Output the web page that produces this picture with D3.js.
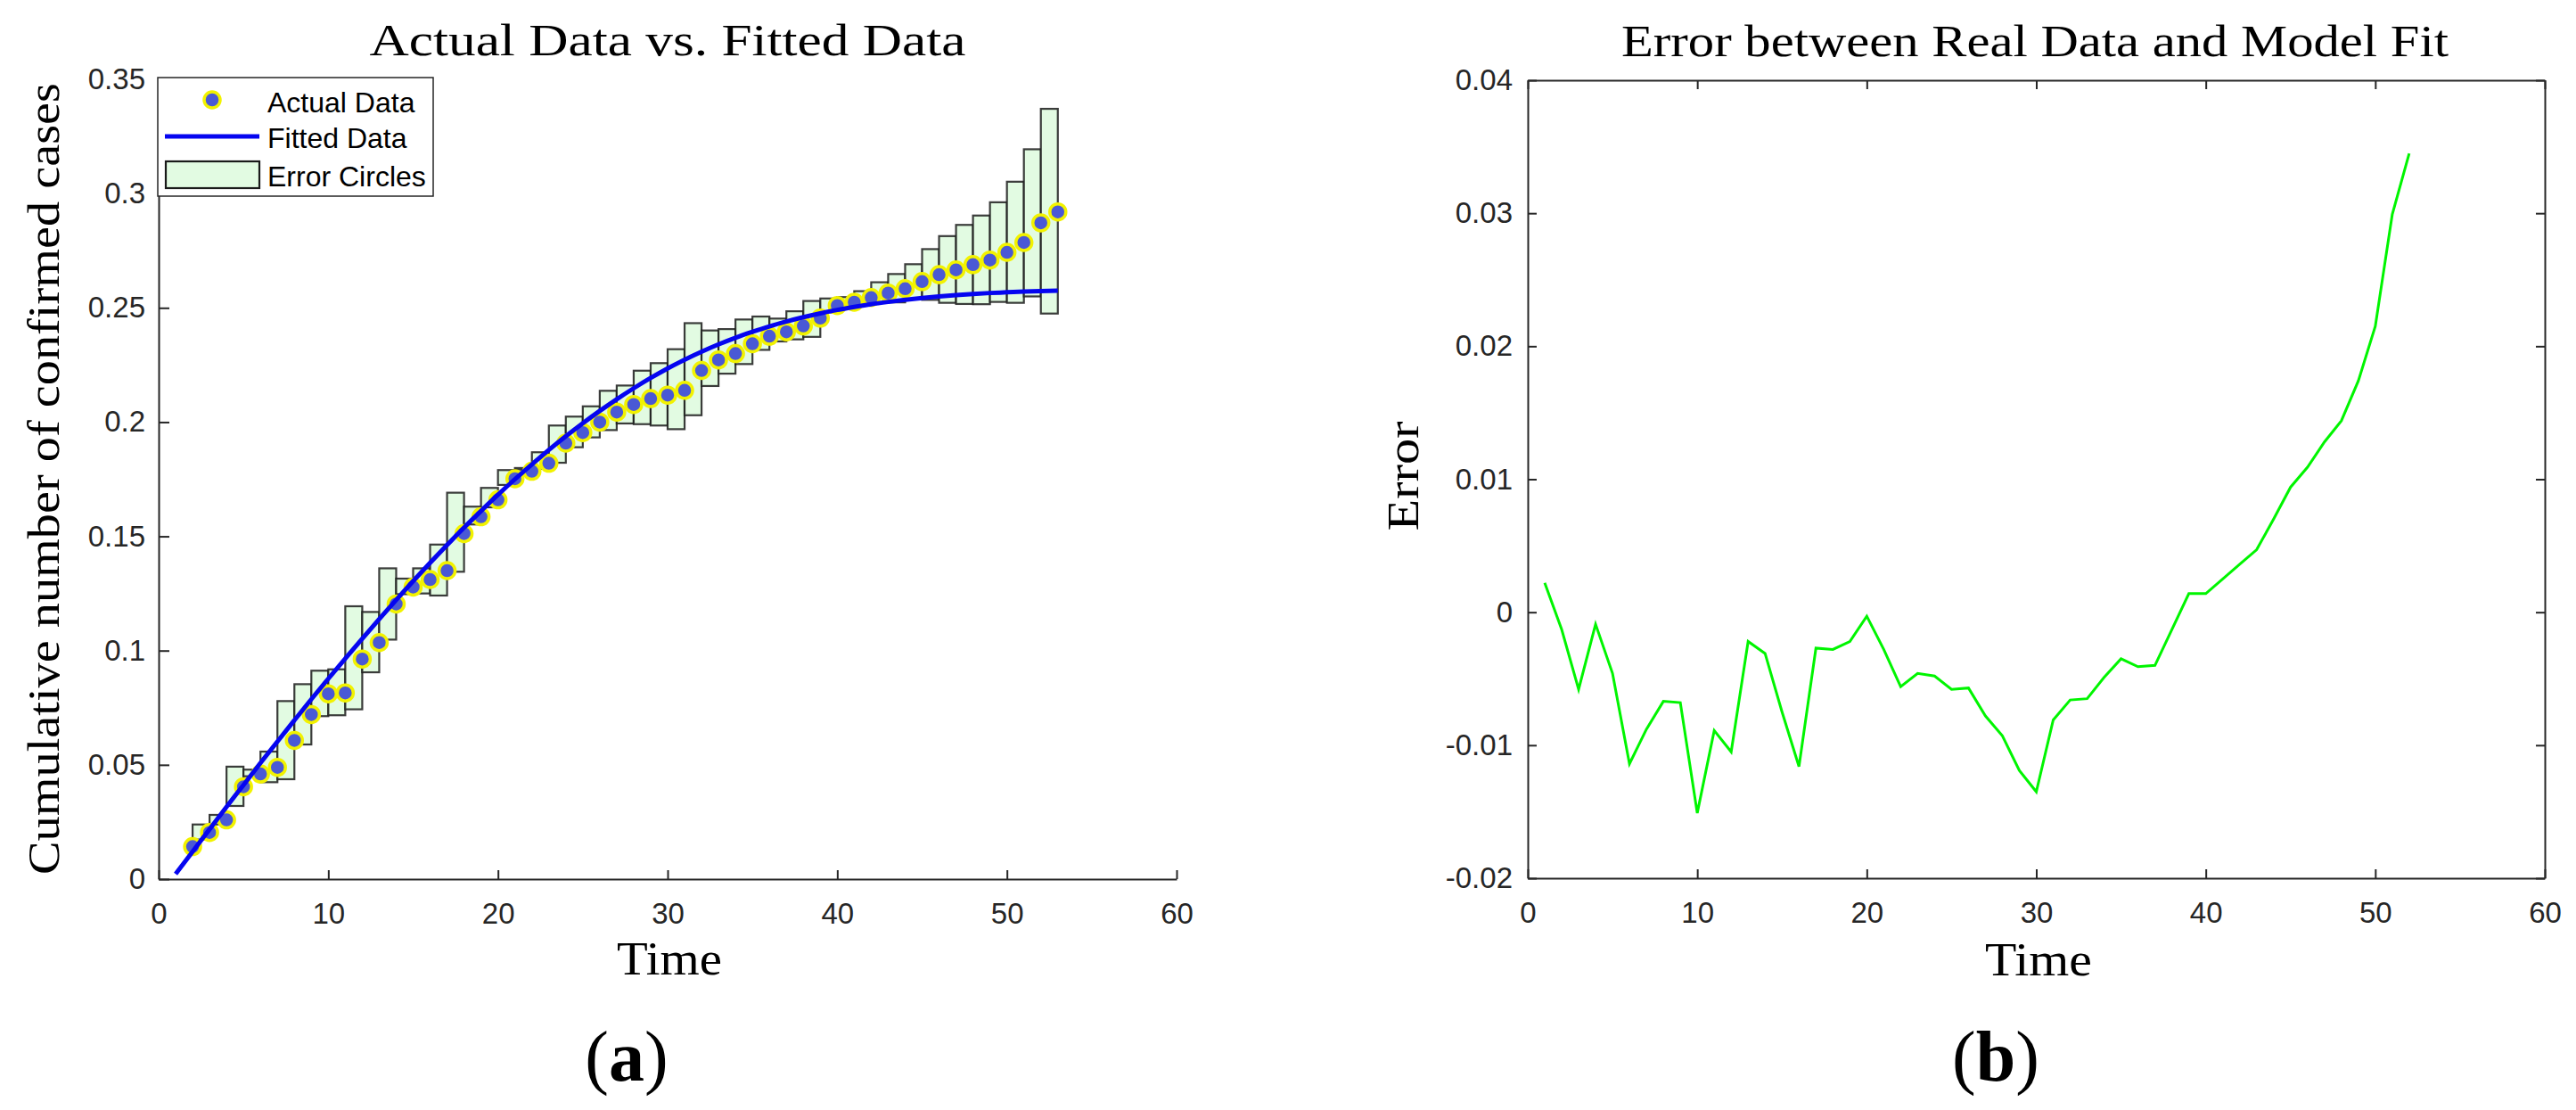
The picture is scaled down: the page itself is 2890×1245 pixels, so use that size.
<!DOCTYPE html>
<html lang="en">
<head>
<meta charset="UTF-8">
<title>Actual Data vs. Fitted Data</title>
<script src="https://d3js.org/d3.v7.min.js"></script>
<style>
    body { margin: 0; background: #fff; }
    .tick text {
        font-family: "Liberation Sans", Arial, sans-serif;
        font-size: 33px;
        fill: #262626;
    }
    .tick line, .domain {
        stroke: #262626;
        stroke-width: 2;
    }
    .latex {
        font-family: "Liberation Serif", serif;
        fill: #000;
    }
    .legend text {
        font-family: "Liberation Sans", Arial, sans-serif;
        font-size: 32px;
        fill: #000;
    }
</style>
</head>
<body>
<script>
    const width = 2890;
    const height = 1245;

    // panel (a): observed points, start at t = 2
    const actualStart = 2;
    const actualValues = [0.0142, 0.0204, 0.0259, 0.0404, 0.0460, 0.0489, 0.0607, 0.0720, 0.0811, 0.0815,
        0.0963, 0.1035, 0.1204, 0.1278, 0.1311, 0.1350, 0.1512, 0.1586, 0.1660, 0.1752,
        0.1785, 0.1820, 0.1908, 0.1954, 0.2000, 0.2044, 0.2077, 0.2103, 0.2118, 0.2139,
        0.2226, 0.2272, 0.2300, 0.2343, 0.2376, 0.2395, 0.2421, 0.2455, 0.2510, 0.2525,
        0.2545, 0.2565, 0.2584, 0.2615, 0.2645, 0.2666, 0.2689, 0.2709, 0.2743, 0.2786,
        0.2872, 0.2920];

    // fitted curve, t = 1..53
    const fittedStart = 1;
    const fittedValues = [0.0022, 0.0120, 0.0218, 0.0316, 0.0412, 0.0508, 0.0602, 0.0695, 0.0787, 0.0877,
        0.0965, 0.1052, 0.1138, 0.1222, 0.1304, 0.1384, 0.1462, 0.1538, 0.1611, 0.1682,
        0.1750, 0.1815, 0.1878, 0.1938, 0.1995, 0.2049, 0.2100, 0.2148, 0.2193, 0.2235,
        0.2273, 0.2308, 0.2340, 0.2369, 0.2395, 0.2419, 0.2440, 0.2459, 0.2476, 0.2491,
        0.2504, 0.2516, 0.2526, 0.2535, 0.2543, 0.2550, 0.2556, 0.2561, 0.2565, 0.2568,
        0.2571, 0.2573, 0.2575];

    // error boxes, each spans [t, t+1], t = 2..52
    const boxStart = 2;
    const boxHigh = [0.0239, 0.0281, 0.0492, 0.0479, 0.0558, 0.0779, 0.0853, 0.0912, 0.0918, 0.1194,
        0.1169, 0.1360, 0.1315, 0.1360, 0.1464, 0.1691, 0.1630, 0.1712, 0.1790, 0.1799,
        0.1868, 0.1985, 0.2024, 0.2069, 0.2137, 0.2160, 0.2225, 0.2258, 0.2319, 0.2433,
        0.2401, 0.2407, 0.2449, 0.2462, 0.2453, 0.2485, 0.2530, 0.2541, 0.2547, 0.2573,
        0.2612, 0.2648, 0.2691, 0.2757, 0.2814, 0.2863, 0.2904, 0.2962, 0.3052, 0.3194,
        0.3371];
    const boxLow = [0.0173, 0.0239, 0.0320, 0.0450, 0.0424, 0.0437, 0.0589, 0.0713, 0.0717, 0.0743,
        0.0905, 0.1048, 0.1247, 0.1250, 0.1241, 0.1345, 0.1552, 0.1627, 0.1725, 0.1792,
        0.1796, 0.1822, 0.1890, 0.1933, 0.1965, 0.1994, 0.1991, 0.1985, 0.1969, 0.2030,
        0.2158, 0.2212, 0.2254, 0.2316, 0.2353, 0.2362, 0.2373, 0.2480, 0.2500, 0.2510,
        0.2522, 0.2524, 0.2540, 0.2535, 0.2522, 0.2517, 0.2516, 0.2526, 0.2522, 0.2550,
        0.2475];

    // panel (b): error, t = 1..52
    const errorStart = 1;
    const errorValues = [0.0022, -0.0013, -0.0058, -0.0009, -0.0046, -0.0114, -0.0088, -0.0067, -0.0068, -0.0151,
        -0.0089, -0.0105, -0.0022, -0.0031, -0.0075, -0.0116, -0.0027, -0.0028, -0.0022, -0.0003,
        -0.0028, -0.0056, -0.0046, -0.0048, -0.0058, -0.0057, -0.0078, -0.0093, -0.0119, -0.0135,
        -0.0081, -0.0066, -0.0065, -0.0049, -0.0035, -0.0041, -0.0040, -0.0013, 0.0014, 0.0014,
        0.0025, 0.0036, 0.0047, 0.0070, 0.0094, 0.0109, 0.0128, 0.0144, 0.0174, 0.0215,
        0.0299, 0.0345];

    const timeTicks = [0, 10, 20, 30, 40, 50, 60];
    const casesTicks = [0, 0.05, 0.1, 0.15, 0.2, 0.25, 0.3, 0.35];
    const errorTicks = [-0.02, -0.01, 0, 0.01, 0.02, 0.03, 0.04];
    const legendLabels = ["Actual Data", "Fitted Data", "Error Circles"];

    const dotBlue = "#4a59d5";
    const dotEdge = "#f2f200";
    const fitBlue = "#0505f0";
    const boxFill = "#e2fbe2";
    const errGreen = "#00f500";

    const xLeft = d3.scaleLinear().domain([0, 60]).range([178, 1320]);
    const yLeft = d3.scaleLinear().domain([0, 0.35]).range([986, 89]);
    const xRight = d3.scaleLinear().domain([0, 60]).range([1714, 2855]);
    const yRight = d3.scaleLinear().domain([-0.02, 0.04]).range([985, 90]);

    const svg = d3.select("body").append("svg")
        .attr("width", width).attr("height", height);
    svg.append("rect").attr("width", width).attr("height", height).attr("fill", "#fff");

    const fmt = d => String(d);

    drawLeft(svg.append("g").attr("class", "left"));
    drawRight(svg.append("g").attr("class", "right"));

    function drawLeft(g) {
        g.append("g")
            .attr("transform", `translate(0,${yLeft(0)})`)
            .call(d3.axisBottom(xLeft).tickValues(timeTicks).tickFormat(fmt)
                .tickSizeInner(-10).tickSizeOuter(0).tickPadding(27));
        g.append("g")
            .attr("transform", `translate(${xLeft(0)},0)`)
            .call(d3.axisLeft(yLeft).tickValues(casesTicks).tickFormat(fmt)
                .tickSizeInner(-12).tickSizeOuter(0).tickPadding(15));

        const boxes = boxHigh.map((d, i) => ({
            t: boxStart + i, hi: d, lo: boxLow[i]
        }));
        g.append("g").selectAll("rect")
            .data(boxes)
            .enter()
            .append("rect")
            .attr("x", d => xLeft(d.t))
            .attr("width", d => xLeft(d.t + 1) - xLeft(d.t))
            .attr("y", d => yLeft(d.hi))
            .attr("height", d => Math.max(1.5, yLeft(d.lo) - yLeft(d.hi)))
            .attr("fill", boxFill)
            .attr("stroke", "#1a1a1a")
            .attr("stroke-opacity", 0.85)
            .attr("stroke-width", 2.2);

        g.append("g").selectAll("circle")
            .data(actualValues)
            .enter()
            .append("circle")
            .attr("cx", (d, i) => xLeft(actualStart + i))
            .attr("cy", d => yLeft(d))
            .attr("r", 9)
            .attr("fill", dotBlue)
            .attr("stroke", dotEdge)
            .attr("stroke-width", 3.5);

        const fitLine = d3.line()
            .x((d, i) => xLeft(fittedStart + i))
            .y(d => yLeft(d))
            .curve(d3.curveMonotoneX);
        g.append("path")
            .datum(fittedValues)
            .attr("d", fitLine)
            .attr("fill", "none")
            .attr("stroke", fitBlue)
            .attr("stroke-width", 5);

        // legend
        const leg = g.append("g").attr("class", "legend");
        leg.append("rect")
            .attr("x", 177).attr("y", 87).attr("width", 309).attr("height", 133)
            .attr("fill", "#fff").attr("stroke", "#262626").attr("stroke-width", 1.5);
        leg.append("circle")
            .attr("cx", 238).attr("cy", 112).attr("r", 9)
            .attr("fill", dotBlue).attr("stroke", dotEdge).attr("stroke-width", 3.5);
        leg.append("line")
            .attr("x1", 185).attr("x2", 291).attr("y1", 153).attr("y2", 153)
            .attr("stroke", fitBlue).attr("stroke-width", 5);
        leg.append("rect")
            .attr("x", 186).attr("y", 181).attr("width", 105).attr("height", 30)
            .attr("fill", boxFill).attr("stroke", "#1a1a1a").attr("stroke-width", 2.2);
        leg.selectAll("text.item")
            .data(legendLabels)
            .enter()
            .append("text")
            .attr("class", "item")
            .attr("x", 300)
            .attr("y", (d, i) => [126, 166, 209][i])
            .text(d => d);

        g.append("text").attr("class", "latex")
            .attr("x", 749).attr("y", 62)
            .attr("text-anchor", "middle")
            .attr("font-size", 51)
            .attr("textLength", 669).attr("lengthAdjust", "spacingAndGlyphs")
            .text("Actual Data vs. Fitted Data");
        g.append("text").attr("class", "latex")
            .attr("transform", "translate(66,537) rotate(-90)")
            .attr("text-anchor", "middle")
            .attr("font-size", 51)
            .attr("textLength", 888).attr("lengthAdjust", "spacingAndGlyphs")
            .text("Cumulative number of confirmed cases");
        g.append("text").attr("class", "latex")
            .attr("x", 751).attr("y", 1093)
            .attr("text-anchor", "middle")
            .attr("font-size", 52)
            .attr("textLength", 118).attr("lengthAdjust", "spacingAndGlyphs")
            .text("Time");
        panelLabel(g, 703, "a");
    }

    function drawRight(g) {
        g.append("g")
            .attr("transform", `translate(0,${yRight(-0.02)})`)
            .call(d3.axisBottom(xRight).tickValues(timeTicks).tickFormat(fmt)
                .tickSizeInner(-10).tickSizeOuter(0).tickPadding(27));
        g.append("g")
            .attr("transform", `translate(0,${yRight(0.04)})`)
            .call(d3.axisTop(xRight).tickValues(timeTicks).tickFormat("")
                .tickSizeInner(-10).tickSizeOuter(0));
        g.append("g")
            .attr("transform", `translate(${xRight(0)},0)`)
            .call(d3.axisLeft(yRight).tickValues(errorTicks).tickFormat(fmt)
                .tickSizeInner(-10).tickSizeOuter(0).tickPadding(17));
        g.append("g")
            .attr("transform", `translate(${xRight(60)},0)`)
            .call(d3.axisRight(yRight).tickValues(errorTicks).tickFormat("")
                .tickSizeInner(-10).tickSizeOuter(0));

        const errLine = d3.line()
            .x((d, i) => xRight(errorStart + i))
            .y(d => yRight(d));
        g.append("path")
            .datum(errorValues)
            .attr("d", errLine)
            .attr("fill", "none")
            .attr("stroke", errGreen)
            .attr("stroke-width", 3);

        g.append("text").attr("class", "latex")
            .attr("x", 2283).attr("y", 63)
            .attr("text-anchor", "middle")
            .attr("font-size", 51)
            .attr("textLength", 928).attr("lengthAdjust", "spacingAndGlyphs")
            .text("Error between Real Data and Model Fit");
        g.append("text").attr("class", "latex")
            .attr("transform", "translate(1591,534) rotate(-90)")
            .attr("text-anchor", "middle")
            .attr("font-size", 51)
            .attr("textLength", 123).attr("lengthAdjust", "spacingAndGlyphs")
            .text("Error");
        g.append("text").attr("class", "latex")
            .attr("x", 2287).attr("y", 1094)
            .attr("text-anchor", "middle")
            .attr("font-size", 52)
            .attr("textLength", 120).attr("lengthAdjust", "spacingAndGlyphs")
            .text("Time");
        panelLabel(g, 2239, "b");
    }

    function panelLabel(g, cx, letter) {
        const t = g.append("text").attr("class", "latex")
            .attr("x", cx).attr("y", 1212)
            .attr("text-anchor", "middle")
            .attr("font-size", 80);
        t.append("tspan").text("(");
        t.append("tspan").attr("font-weight", "bold").text(letter);
        t.append("tspan").text(")");
    }
</script>
</body>
</html>
